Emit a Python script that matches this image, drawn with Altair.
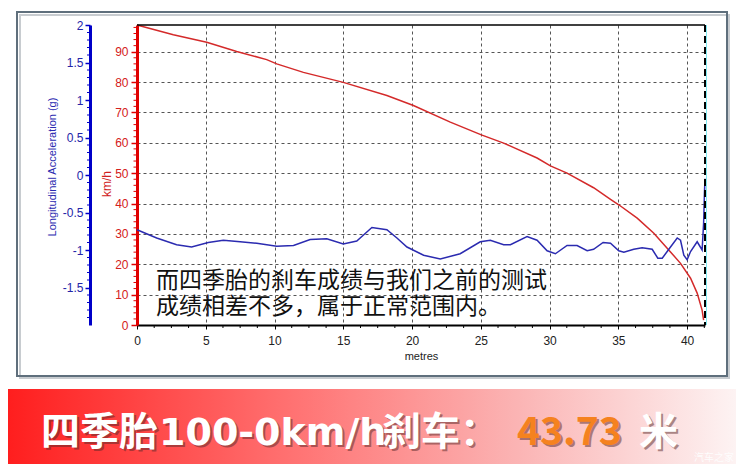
import altair as alt
import pandas as pd

# ---------------- data ----------------
# red trace: speed (km/h) vs distance (metres)
speed_m = [0, 2.64, 5.07, 7.25, 9.43, 10.16, 12.1, 15.0, 18.17, 20.1, 22.78, 25.04,
           26.66, 29.09, 30.06, 31.27, 33.2, 34.43, 35.03, 36.37, 37.58, 38.55,
           39.52, 40.25, 40.73, 41.09, 41.2]
speed_kmh = [98.8, 95.6, 93.1, 90.1, 87.4, 86.0, 83.2, 79.9, 75.6, 72.3, 66.8, 62.6,
             59.9, 55.0, 52.4, 50.0, 45.2, 41.4, 39.6, 35.2, 30.2, 25.3,
             20.3, 15.4, 10.5, 4.9, 1.6]

# blue trace: longitudinal acceleration (g) vs distance (metres)
acc_m = [0, 1.43, 2.88, 3.97, 5.18, 6.28, 7.5, 8.71, 10.16, 11.38, 12.59, 13.8, 15.0,
         15.98, 16.47, 17.08, 18.17, 18.9, 19.63, 20.84, 22.05, 23.5, 24.96, 25.69,
         26.66, 27.15, 28.36, 29.09, 29.82, 30.42, 31.27, 32.0, 32.73, 33.2, 33.89,
         34.43, 35.03, 35.4, 36.12, 36.73, 37.46, 37.87, 38.19, 38.67, 39.28, 39.52,
         39.76, 40.0, 40.25, 40.73, 41.09, 41.2, 41.26, 41.3]
acc_g = [-0.73, -0.84, -0.93, -0.96, -0.90, -0.87, -0.89, -0.91, -0.95, -0.94, -0.86,
         -0.85, -0.92, -0.88, -0.80, -0.70, -0.73, -0.84, -0.96, -1.07, -1.12, -1.05,
         -0.89, -0.87, -0.93, -0.93, -0.82, -0.87, -1.01, -1.05, -0.94, -0.94, -1.01,
         -0.99, -0.90, -0.91, -1.01, -1.03, -0.99, -0.97, -0.99, -1.11, -1.11, -0.99,
         -0.84, -0.87, -1.07, -1.13, -1.02, -0.89, -1.0, -0.64, -0.24, -0.05]

x_domain = [0, 41.3]
speed_domain = [0, 98.8]
acc_domain = [-2, 2]
x_ticks = [0, 5, 10, 15, 20, 25, 30, 35, 40]
x_minor = [1.25, 2.5, 3.75, 6.25, 7.5, 8.75, 11.25, 12.5, 13.75, 16.25, 17.5, 18.75,
           21.25, 22.5, 23.75, 26.25, 27.5, 28.75, 31.25, 32.5, 33.75, 36.25, 37.5,
           38.75, 41.25]
speed_ticks = [0, 10, 20, 30, 40, 50, 60, 70, 80, 90]
speed_minor = [2, 4, 6, 8, 12, 14, 16, 18, 22, 24, 26, 28, 32, 34, 36, 38, 42, 44, 46,
               48, 52, 54, 56, 58, 62, 64, 66, 68, 72, 74, 76, 78, 82, 84, 86, 88, 92,
               94, 96, 98]
acc_ticks = [-1.5, -1, -0.5, 0, 0.5, 1, 1.5, 2]
acc_minor = [-1.9, -1.8, -1.7, -1.6, -1.4, -1.3, -1.2, -1.1, -0.9, -0.8, -0.7, -0.6,
             -0.4, -0.3, -0.2, -0.1, 0.1, 0.2, 0.3, 0.4, 0.6, 0.7, 0.8, 0.9, 1.1, 1.2,
             1.3, 1.4, 1.6, 1.7, 1.8, 1.9]

x_title = "metres"
acc_title = "Longitudinal Acceleration (g)"
speed_title = "km/h"
annotation_lines = ["而四季胎的刹车成绩与我们之前的测试", "成绩相差不多，属于正常范围内。"]
banner_parts = ["四季胎", "100-0km/h", "刹车：", "43.73", "米"]
watermark = "汽车之家"

# ---------------- styling ----------------
W, H = 568, 300
RED = "#d42a2a"
RED_AXIS = "#e00000"
BLUE = "#2b2bb0"
BLUE_AXIS = "#0000c8"
LAT = "Liberation Sans"
CJK = "Noto Sans CJK SC"

speed_df = pd.DataFrame({"m": speed_m, "v": speed_kmh})
acc_df = pd.DataFrame({"m": acc_m, "a": acc_g})
one = pd.DataFrame({"k": [0]})

x_enc = alt.X(
    "m:Q",
    scale=alt.Scale(domain=x_domain, nice=False, zero=False),
    axis=alt.Axis(values=x_ticks, format="d", title=x_title, grid=True,
                  gridDash=[3, 3], gridColor="#555", gridWidth=1,
                  domainColor="#000", domainWidth=2, tickColor="#000", tickSize=4,
                  labelFontSize=12, labelFont=LAT, labelColor="#222", labelPadding=6,
                  labelFlush=False, titleFontSize=11, titleFont=LAT,
                  titleFontWeight="normal", titleColor="#222", titlePadding=4),
)

# background decorations
banner = alt.Chart(one).mark_rect(
    color=alt.Gradient(
        gradient="linear",
        stops=[alt.GradientStop(color="#ff1e1e", offset=0),
               alt.GradientStop(color="#ff7474", offset=0.4),
               alt.GradientStop(color="#fbb4b4", offset=0.7),
               alt.GradientStop(color="#fdf3f3", offset=1)],
        x1=0, x2=1, y1=0, y2=0)
).encode(x=alt.value(-129), x2=alt.value(599), y=alt.value(364), y2=alt.value(440))

frame_shadow = alt.Chart(one).mark_rect(fillOpacity=0, stroke="#c8ccd0", strokeWidth=2).encode(
    x=alt.value(-117), x2=alt.value(592), y=alt.value(-10), y2=alt.value(353))
frame = alt.Chart(one).mark_rect(fillOpacity=0, stroke="#5f6f7c", strokeWidth=2).encode(
    x=alt.value(-120), x2=alt.value(590), y=alt.value(-13), y2=alt.value(351))

speed_line = alt.Chart(speed_df).mark_line(color=RED, strokeWidth=1.5).encode(
    x=x_enc,
    y=alt.Y("v:Q", scale=alt.Scale(domain=speed_domain, nice=False, zero=False),
            axis=alt.Axis(orient="left", values=speed_ticks, title=None, grid=True,
                          gridDash=[3, 3], gridColor="#555", gridWidth=1,
                          domainColor=RED_AXIS, domainWidth=3, tickColor=RED_AXIS,
                          tickSize=6, tickWidth=1.5, labelColor="#d42020",
                          labelFontSize=12, labelFont=LAT, labelPadding=3)),
)

acc_line = alt.Chart(acc_df).mark_line(color=BLUE, strokeWidth=1.5).encode(
    x=alt.X("m:Q"),
    y=alt.Y("a:Q", scale=alt.Scale(domain=acc_domain, nice=False, zero=False),
            axis=alt.Axis(orient="left", offset=47, values=acc_ticks,
                          labelExpr="datum.value + ''", title=None, grid=False,
                          domainColor=BLUE_AXIS, domainWidth=3, tickColor=BLUE_AXIS,
                          tickSize=5, tickWidth=1.5, labelColor="#2424a8",
                          labelFontSize=12, labelFont=LAT, labelPadding=2)),
)

# minor ticks
x_minor_rules = alt.Chart(pd.DataFrame({"m": x_minor})).mark_rule(color="#000", strokeWidth=1).encode(
    x=alt.X("m:Q"), y=alt.value(300), y2=alt.value(303))
speed_minor_rules = alt.Chart(pd.DataFrame({"s": speed_minor})).mark_rule(color=RED_AXIS, strokeWidth=1).encode(
    y=alt.Y("s:Q", scale=alt.Scale(domain=speed_domain, nice=False, zero=False), axis=None),
    x=alt.value(-3.5), x2=alt.value(0))
acc_minor_rules = alt.Chart(pd.DataFrame({"g": acc_minor})).mark_rule(color=BLUE_AXIS, strokeWidth=1).encode(
    y=alt.Y("g:Q", scale=alt.Scale(domain=acc_domain, nice=False, zero=False), axis=None),
    x=alt.value(-50), x2=alt.value(-47))

top_border = alt.Chart(one).mark_rule(color="#000", strokeWidth=1.5).encode(
    x=alt.value(0), x2=alt.value(W), y=alt.value(0))
right_cyan = alt.Chart(one).mark_rule(color="#7fe8f0", strokeWidth=1).encode(
    x=alt.value(W + 1.5), y=alt.value(0), y2=alt.value(H))
right_border = alt.Chart(one).mark_rule(color="#000", strokeWidth=2, strokeDash=[7, 4]).encode(
    x=alt.value(W), y=alt.value(0), y2=alt.value(H))

acc_title_t = alt.Chart(one).mark_text(angle=270, fontSize=11, font=LAT, color="#2a2ab0",
                                       align="center", baseline="middle").encode(
    x=alt.value(-84.5), y=alt.value(142), text=alt.value(acc_title))
speed_title_t = alt.Chart(one).mark_text(angle=270, fontSize=12, font=LAT, color="#d02020",
                                         align="center", baseline="middle").encode(
    x=alt.value(-30), y=alt.value(159), text=alt.value(speed_title))

ann1 = alt.Chart(one).mark_text(align="left", baseline="middle", fontSize=23, font=CJK,
                                color="#111").encode(
    x=alt.value(19), y=alt.value(256), text=alt.value(annotation_lines[0]))
ann2 = alt.Chart(one).mark_text(align="left", baseline="middle", fontSize=23, font=CJK,
                                color="#111").encode(
    x=alt.value(19), y=alt.value(282), text=alt.value(annotation_lines[1]))

banner_x = [-96, 22, 245, 380, 502]
banner_colors = ["#ffffff", "#ffffff", "#ffffff", "#f5821f", "#ffffff"]
banner_fonts = [CJK, "DejaVu Sans", CJK, CJK, CJK]
banner_sizes = [39, 38, 39, 39, 39]
banner_shadows = []
banner_texts = []
for part, bx, col, fnt, fs in zip(banner_parts, banner_x, banner_colors, banner_fonts, banner_sizes):
    banner_shadows.append(
        alt.Chart(one).mark_text(align="left", baseline="alphabetic", fontSize=fs,
                                 font=fnt, fontWeight="bold", color="#5a2a2a",
                                 opacity=0.5).encode(
            x=alt.value(bx + 2), y=alt.value(422), text=alt.value(part)))
    banner_texts.append(
        alt.Chart(one).mark_text(align="left", baseline="alphabetic", fontSize=fs,
                                 font=fnt, fontWeight="bold", color=col).encode(
            x=alt.value(bx), y=alt.value(420), text=alt.value(part)))

wm = alt.Chart(one).mark_text(align="right", baseline="alphabetic", fontSize=10, font=CJK,
                              color="#ffffff", opacity=0.9).encode(
    x=alt.value(597), y=alt.value(436), text=alt.value(watermark))

chart = alt.layer(
    banner, frame_shadow, frame, speed_line, acc_line,
    x_minor_rules, speed_minor_rules, acc_minor_rules,
    top_border, right_cyan, right_border,
    acc_title_t, speed_title_t, ann1, ann2, *banner_shadows, *banner_texts, wm,
).resolve_scale(y="independent").properties(
    width=W, height=H,
    autosize=alt.AutoSizeParams(type="none"),
    padding={"left": 129, "top": 17, "right": 31, "bottom": 139},
    background="#ffffff",
).configure_view(strokeWidth=0)

chart.save("out.html", embed_options={"renderer": "svg", "actions": False})
